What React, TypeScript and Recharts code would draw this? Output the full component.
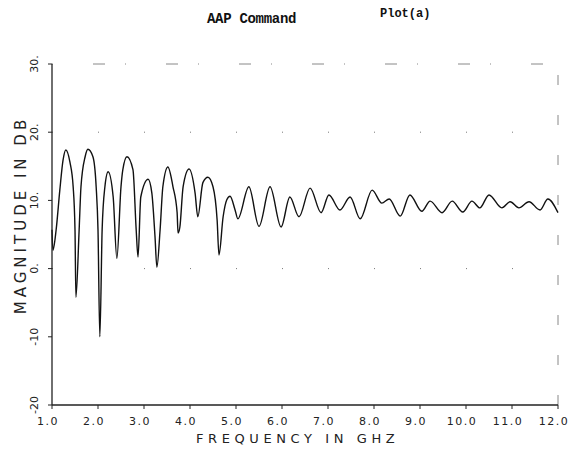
import React from 'react';
import { LineChart, Line, XAxis, YAxis, ReferenceLine } from 'recharts';

// Frequency (GHz) and magnitude (dB)
const freqGHz = [
  1.0, 1.02, 1.09, 1.17, 1.24, 1.3, 1.39, 1.46, 1.5, 1.52, 1.59, 1.63, 1.72, 1.78, 1.89, 1.96, 2.0, 2.04, 2.09, 2.15,
  2.22, 2.33, 2.41, 2.5, 2.54, 2.63, 2.76, 2.83, 2.87, 2.93, 3.09, 3.17, 3.24, 3.28, 3.35, 3.41, 3.52, 3.63, 3.72, 3.74,
  3.78, 3.85, 3.98, 4.11, 4.17, 4.28, 4.39, 4.5, 4.59, 4.63, 4.72, 4.8, 4.87, 4.98, 5.04, 5.28, 5.5, 5.74, 5.98, 6.17,
  6.37, 6.61, 6.85, 7.02, 7.26, 7.48, 7.7, 7.96, 8.17, 8.33, 8.57, 8.78, 9.04, 9.22, 9.48, 9.7, 9.93, 10.13, 10.3, 10.5,
  10.78, 10.96, 11.15, 11.37, 11.61, 11.78, 12.0,
];
const magnitudeDb = [
  5.7, 2.7, 5.7, 11.5, 15.9, 17.4, 15.6, 12.0, 5.7, -4.2, 5.7, 12.0, 16.4, 17.5, 16.4, 12.0, 5.7, -10.0, 5.7, 12.0,
  14.2, 10.5, 1.5, 12.0, 14.5, 16.4, 14.5, 5.7, 1.7, 10.5, 13.1, 11.1, 4.6, 0.2, 5.7, 12.0, 14.9, 12.0, 8.2, 5.2,
  6.1, 12.0, 14.6, 11.1, 7.6, 12.6, 13.4, 12.0, 7.1, 2.0, 7.6, 10.1, 10.6, 8.6, 7.3, 12.0, 6.2, 12.0, 6.1, 10.5,
  7.6, 11.8, 8.2, 10.8, 8.6, 10.5, 7.3, 11.5, 9.6, 10.2, 7.7, 10.8, 8.4, 9.9, 8.2, 9.9, 8.3, 9.9, 8.9, 10.8,
  8.9, 9.8, 8.9, 9.8, 8.6, 10.2, 8.2,
];

const xTicks = [1, 2, 3, 4, 5, 6, 7, 8, 9, 10, 11, 12];
const xTickLabels = ['1.0', '2.0', '3.0', '4.0', '5.0', '6.0', '7.0', '8.0', '9.0', '10.0', '11.0', '12.0'];
const yTicks = [-20, -10, 0, 10, 20, 30];
const yTickLabels = ['-20', '-10', '0.', '10.', '20.', '30.'];

const data = freqGHz.map((f, i) => ({ f, db: magnitudeDb[i] }));

const FONT = '"DejaVu Sans", sans-serif';
const INK = '#222';

const XTick = (props: any) => {
  const { x, y, payload } = props;
  const i = xTicks.indexOf(payload.value);
  return (
    <text x={x - 4} y={y + 14} textAnchor="middle" fontFamily={FONT} fontSize={11} fill={INK} letterSpacing={1.5}>
      {xTickLabels[i]}
    </text>
  );
};

const YTick = (props: any) => {
  const { y, payload } = props;
  const i = yTicks.indexOf(payload.value);
  return (
    <text
      transform={`translate(38,${y}) rotate(-90)`}
      textAnchor="middle"
      fontFamily={FONT}
      fontSize={11}
      fill={INK}
    >
      {yTickLabels[i]}
    </text>
  );
};

export default function App() {
  return (
    <div style={{ position: 'absolute', left: 0, top: 0, width: 572, height: 453, background: '#fff' }}>
      <LineChart width={572} height={453} data={data} margin={{ top: 64, right: 14, left: 0, bottom: 0 }}>
        <XAxis
          dataKey="f"
          type="number"
          domain={[1, 12]}
          ticks={xTicks}
          height={48}
          tick={<XTick />}
          tickSize={4}
          stroke={INK}
          axisLine={{ stroke: INK, strokeWidth: 1.3 }}
          tickLine={{ stroke: INK }}
        />
        <YAxis
          type="number"
          domain={[-20, 30]}
          ticks={yTicks}
          width={52}
          tick={<YTick />}
          tickSize={4}
          stroke={INK}
          axisLine={{ stroke: INK, strokeWidth: 1.3 }}
          tickLine={{ stroke: INK }}
        />
        <ReferenceLine y={20} stroke="#777" strokeDasharray="1 45" />
        <ReferenceLine y={0} stroke="#777" strokeDasharray="1 45" />
        <ReferenceLine y={30} stroke="#888" strokeDasharray="1 40 12 20" />
        <ReferenceLine x={12} stroke="#888" strokeDasharray="10 30" />
        <Line
          type="monotone"
          dataKey="db"
          stroke="#111"
          strokeWidth={1.4}
          dot={false}
          isAnimationActive={false}
        />
      </LineChart>
      <div
        style={{
          position: 'absolute', left: 207, top: 11, fontFamily: '"Liberation Mono", monospace',
          fontWeight: 'bold', fontSize: 14, color: '#111', whiteSpace: 'nowrap', letterSpacing: -0.3,
        }}
      >
        AAP Command
      </div>
      <div
        style={{
          position: 'absolute', left: 380, top: 7, fontFamily: '"Liberation Mono", monospace',
          fontWeight: 'bold', fontSize: 12, color: '#111', whiteSpace: 'nowrap',
        }}
      >
        Plot(a)
      </div>
      <div
        style={{
          position: 'absolute', left: 196, top: 432, fontFamily: FONT, fontSize: 13, lineHeight: '14px',
          color: INK, letterSpacing: 4.6, whiteSpace: 'nowrap',
        }}
      >
        FREQUENCY IN GHZ
      </div>
      <div
        style={{
          position: 'absolute', left: 21, top: 215, width: 0, height: 0,
        }}
      >
        <div
          style={{
            position: 'absolute', left: 0, top: 0, transform: 'translate(-50%,-50%) rotate(-90deg)',
            fontFamily: FONT, fontSize: 15, color: INK, letterSpacing: 4, whiteSpace: 'nowrap',
          }}
        >
          MAGNITUDE IN DB
        </div>
      </div>
    </div>
  );
}
